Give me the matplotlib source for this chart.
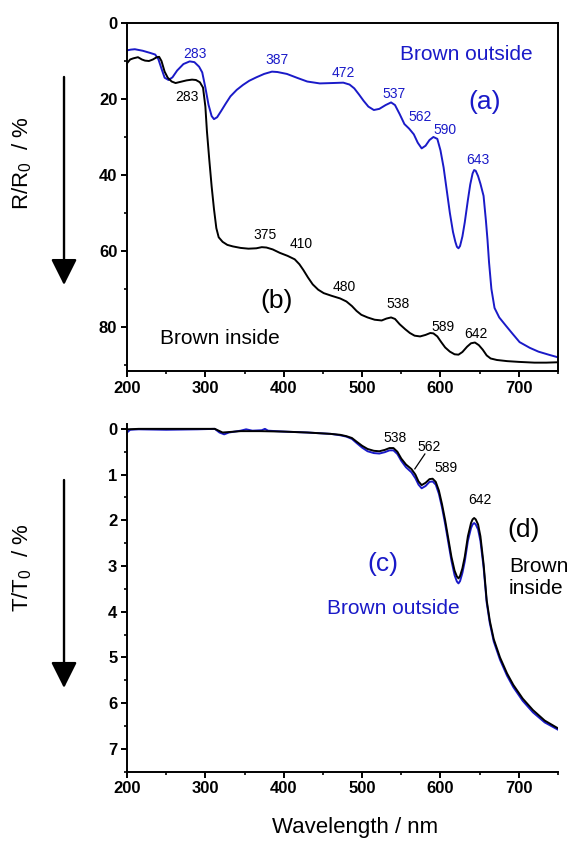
import matplotlib

matplotlib.use("Agg")
import matplotlib.pyplot as plt
from matplotlib.patches import FancyArrowPatch
from matplotlib.ticker import MultipleLocator

# (a) Brown outside, reflectance
wl_refl_out = [200, 205, 210, 220, 230, 236, 240, 244, 248, 253, 258, 264, 272, 280, 286,
               292, 296, 300, 304, 308, 311, 315, 320, 326, 332, 340, 348, 356, 365, 375,
               385, 392, 404, 418, 430, 446, 462, 476, 484, 490, 496, 502, 508, 515, 522,
               530, 537, 542, 548, 554, 560, 566, 571, 576, 581, 586, 591, 596, 600, 604,
               608, 612, 616, 619, 621, 623, 625, 628, 631, 635, 638, 641, 643, 645, 648,
               651, 655, 658, 660, 662, 665, 669, 675, 684, 692, 701, 714, 725, 738, 750]
refl_out = [7.2, 7.0, 6.9, 7.3, 7.9, 8.3, 9.5, 12.0, 14.4, 15.0, 14.3, 12.5, 10.8, 10.1, 10.3,
            11.5, 13.0, 17.0, 21.5, 24.5, 25.3, 24.8, 23.2, 21.2, 19.3, 17.6, 16.3, 15.2, 14.3, 13.4,
            12.8, 12.9, 13.4, 14.5, 15.4, 15.9, 15.8, 15.7, 16.2, 17.2, 18.8, 20.5, 22.0, 22.9, 22.6,
            21.6, 20.9, 21.6, 24.0, 26.6, 27.8, 29.3, 31.5, 33.0, 32.3, 30.8, 30.0, 30.5, 33.5, 38.0,
            44.0, 50.0, 55.0, 57.6, 58.9, 59.3, 58.7, 56.2, 52.5, 46.6, 42.5, 39.6, 38.7, 38.9, 40.3,
            42.3, 45.5, 52.0, 57.0, 63.0, 70.0, 75.0, 77.5, 79.8, 81.8, 84.0, 85.5, 86.5, 87.3, 88.0]

# (b) Brown inside, reflectance
wl_refl_in = [200, 204, 208, 214, 219, 223, 228, 233, 238, 241, 244, 248, 252, 257, 262,
              268, 276, 283, 288, 293, 297, 300, 302, 305, 308, 311, 314, 317, 322, 328,
              335, 345, 355, 365, 372, 378, 386, 395, 405, 414, 420, 425, 431, 437, 444,
              451, 461, 472, 480, 487, 493, 499, 507, 516, 525, 531, 537, 542, 548, 555,
              561, 567, 574, 581, 587, 591, 596, 601, 606, 612, 618, 623, 628, 634, 639,
              644, 649, 654, 659, 664, 672, 685, 700, 720, 735, 750]
refl_in = [10.6, 9.6, 9.3, 9.0, 9.6, 9.9, 10.0, 9.6, 9.0, 8.9, 10.0, 12.8, 14.4, 15.4, 15.8,
           15.5, 15.1, 14.9, 15.0, 15.6, 17.0, 22.0, 28.5, 36.0, 43.0, 49.0, 54.0, 56.4, 57.6, 58.4,
           58.8, 59.2, 59.4, 59.3, 59.0, 59.1, 59.6, 60.5, 61.3, 62.2, 63.5, 65.0, 67.0, 68.8, 70.2,
           71.1, 71.8, 72.5, 73.3, 74.5, 75.8, 76.8, 77.5, 78.1, 78.3, 77.8, 77.5, 77.9, 79.3, 80.6,
           81.6, 82.3, 82.5, 82.1, 81.6, 81.7, 82.5, 84.0, 85.4, 86.5, 87.2, 87.3, 86.6, 85.2, 84.3,
           84.1, 84.8, 86.0, 87.5, 88.3, 88.7, 89.0, 89.2, 89.4, 89.4, 89.3]

# (c) Brown outside, transmittance
wl_trans_out = [200, 204, 215, 250, 290, 312, 318, 324, 330, 345, 352, 360, 372, 376, 380,
                400, 430, 460, 472, 480, 487, 493, 500, 507, 515, 522, 529, 535, 540, 545,
                550, 556, 563, 568, 572, 576, 581, 586, 590, 594, 598, 602, 606, 610, 614,
                618, 621, 623, 625, 628, 631, 635, 639, 641, 643, 645, 648, 651, 655, 659,
                663, 668, 676, 685, 693, 705, 718, 733, 750]
trans_out = [0.08, 0.02, 0.01, 0.02, 0.01, 0.0, 0.08, 0.12, 0.08, 0.04, 0.01, 0.04, 0.03, 0.0, 0.04,
             0.06, 0.08, 0.11, 0.14, 0.17, 0.22, 0.31, 0.41, 0.49, 0.53, 0.54, 0.51, 0.47, 0.47, 0.55,
             0.70, 0.84, 0.95, 1.08, 1.22, 1.30, 1.25, 1.16, 1.15, 1.22, 1.42, 1.72, 2.08, 2.48, 2.88,
             3.20, 3.34, 3.38, 3.33, 3.15, 2.90, 2.45, 2.17, 2.09, 2.06, 2.09, 2.20, 2.45, 3.02, 3.80,
             4.25, 4.65, 5.05, 5.40, 5.65, 5.95, 6.20, 6.42, 6.58]

# (d) Brown inside, transmittance
wl_trans_in = [200, 215, 250, 290, 312, 317, 322, 330, 345, 370, 400, 430, 460, 472, 480,
               487, 493, 500, 507, 515, 522, 529, 535, 540, 545, 550, 556, 563, 568, 572,
               576, 581, 586, 590, 594, 598, 602, 606, 610, 614, 618, 621, 623, 625, 628,
               631, 635, 639, 641, 643, 645, 648, 651, 655, 659, 663, 668, 676, 685, 693,
               705, 718, 733, 750]
trans_in = [0.01, 0.0, 0.0, 0.0, 0.0, 0.04, 0.08, 0.07, 0.05, 0.05, 0.06, 0.08, 0.11, 0.13, 0.16,
            0.20, 0.28, 0.37, 0.44, 0.48, 0.49, 0.46, 0.42, 0.42, 0.50, 0.65, 0.78, 0.88, 1.00, 1.15,
            1.23, 1.18, 1.10, 1.09, 1.16, 1.35, 1.65, 2.00, 2.40, 2.80, 3.10, 3.23, 3.27, 3.22, 3.05,
            2.80, 2.35, 2.06, 1.98, 1.95, 1.98, 2.09, 2.35, 2.95, 3.75, 4.20, 4.60, 5.00, 5.35, 5.60,
            5.90, 6.15, 6.38, 6.55]

# peak labels (text, x, y)
peaks_a = [("283", 286.7, 8.2), ("387", 390.9, 9.7), ("472", 475.9, 13.2), ("537", 541, 18.8),
           ("562", 574.6, 24.8), ("590", 605.6, 28.2), ("643", 648, 36.0)]
peaks_b = [("283", 276.1, 19.6), ("375", 376, 55.8), ("410", 422.8, 58.2), ("480", 477.2, 69.6),
           ("538", 545.3, 73.9), ("589", 603.5, 80.1), ("642", 645.2, 81.8)]
peaks_d = [("538", 541.8, 0.20), ("562", 585.6, 0.39), ("589", 606.5, 0.85), ("642", 650.3, 1.55)]


def main():
    plt.rcParams.update(
        {
            "font.family": ["Liberation Sans", "DejaVu Sans"],
            "mathtext.default": "regular",
            "axes.linewidth": 1.4,
            "xtick.major.width": 1.4,
            "ytick.major.width": 1.4,
            "xtick.minor.width": 1.2,
            "ytick.minor.width": 1.2,
            "xtick.major.size": 4.5,
            "ytick.major.size": 4.5,
            "xtick.minor.size": 2.5,
            "ytick.minor.size": 2.5,
            "xtick.direction": "out",
            "ytick.direction": "out",
            "xtick.labelsize": 12,
            "ytick.labelsize": 12,
        }
    )
    blue = "#1a1ac8"

    fig = plt.figure(figsize=(5.68, 8.43), dpi=100)
    ax1 = fig.add_axes([0.2236, 0.5599, 0.7588, 0.4128])
    ax2 = fig.add_axes([0.2236, 0.0845, 0.7588, 0.4122])

    # Top panel: reflectance
    ax1.plot(wl_refl_out, refl_out, color=blue, lw=1.4)
    ax1.plot(wl_refl_in, refl_in, color="black", lw=1.4)
    ax1.set_xlim(200, 750)
    ax1.set_ylim(91.6, 0)
    ax1.yaxis.set_major_locator(MultipleLocator(20))
    ax1.yaxis.set_minor_locator(MultipleLocator(10))

    for t, x, y in peaks_a:
        ax1.text(x, y, t, color=blue, fontsize=10, ha="center", va="center")
    for t, x, y in peaks_b:
        ax1.text(x, y, t, color="black", fontsize=10, ha="center", va="center")
    ax1.text(633.3, 8.4, "Brown outside", color=blue, fontsize=15, ha="center", va="center")
    ax1.text(655.8, 20.7, "(a)", color=blue, fontsize=19, ha="center", va="center")
    ax1.text(391, 73.3, "(b)", color="black", fontsize=19, ha="center", va="center")
    ax1.text(318.6, 83.0, "Brown inside", color="black", fontsize=15, ha="center", va="center")

    # Bottom panel: transmittance
    ax2.plot(wl_trans_out, trans_out, color=blue, lw=1.4)
    ax2.plot(wl_trans_in, trans_in, color="black", lw=1.4)
    ax2.set_xlim(200, 750)
    ax2.set_ylim(7.5, -0.1)
    ax2.yaxis.set_major_locator(MultipleLocator(1))
    ax2.yaxis.set_minor_locator(MultipleLocator(0.5))
    ax2.spines["top"].set_visible(False)
    ax2.spines["right"].set_visible(False)

    for t, x, y in peaks_d:
        ax2.text(x, y, t, color="black", fontsize=10, ha="center", va="center")
    ax2.plot([567.3, 580.1], [0.875, 0.55], color="black", lw=0.9)
    ax2.text(705.5, 2.21, "(d)", color="black", fontsize=19, ha="center", va="center")
    ax2.text(687.6, 3.25, "Brown\ninside", color="black", fontsize=15, ha="left", va="center")
    ax2.text(527, 2.95, "(c)", color=blue, fontsize=19, ha="center", va="center")
    ax2.text(539.7, 3.92, "Brown outside", color=blue, fontsize=15, ha="center", va="center")

    for ax in (ax1, ax2):
        ax.xaxis.set_major_locator(MultipleLocator(100))
        ax.xaxis.set_minor_locator(MultipleLocator(50))
        ax.tick_params(which="both", top=False, right=False, pad=2.5)
        for lab in ax.get_xticklabels() + ax.get_yticklabels():
            lab.set_fontweight("bold")

    # axis titles and arrows
    fig.text(0.0387, 0.806, "R/R$_0$  / %", rotation=90, fontsize=16, ha="center", va="center")
    fig.text(0.0387, 0.3268, "T/T$_0$  / %", rotation=90, fontsize=16, ha="center", va="center")
    fig.text(0.625, 0.0178, "Wavelength / nm", fontsize=16, ha="center", va="center")

    for y0, y1 in [(0.9087, 0.6619), (0.4306, 0.1839)]:
        fig.patches.append(
            FancyArrowPatch(
                (0.1127, y0),
                (0.1127, y1),
                transform=fig.transFigure,
                arrowstyle="-|>,head_length=0.8,head_width=0.4",
                mutation_scale=20,
                lw=1.7,
                color="black",
                shrinkA=0,
                shrinkB=0,
            )
        )

    fig.savefig("out.png", dpi=100)
    plt.close(fig)


if __name__ == "__main__":
    main()
